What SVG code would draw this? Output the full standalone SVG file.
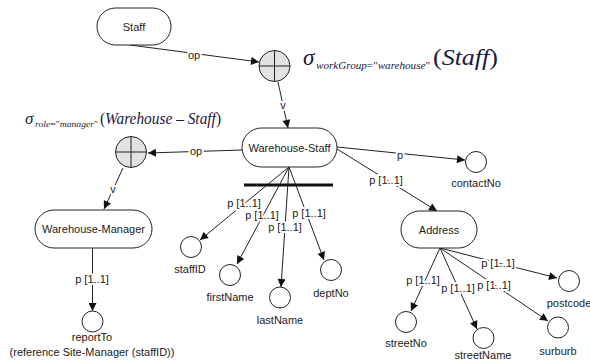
<svg xmlns="http://www.w3.org/2000/svg" width="590" height="360" viewBox="0 0 590 360">
<style>
text{font-family:"Liberation Sans",Arial,sans-serif;font-size:11px;fill:#222}
.c{text-anchor:middle;dominant-baseline:central}
.lbl{text-anchor:middle;dominant-baseline:central;stroke:#fff;stroke-width:4;paint-order:stroke;stroke-linejoin:round}
.node{fill:#fff;stroke:#222;stroke-width:1}
.op{fill:#e2e2e2;stroke:#222;stroke-width:1}
.x{stroke:#222;stroke-width:1}
.ea{stroke:#222;stroke-width:1;fill:none;marker-end:url(#ah)}
.m{font-family:"Liberation Serif","Times New Roman",serif;font-style:italic;fill:#1a1a40}
.u{font-style:normal}
</style>
<defs>
<marker id="ah" viewBox="0 0 10 10" refX="10" refY="5" markerWidth="9" markerHeight="8" markerUnits="userSpaceOnUse" orient="auto">
<path d="M0,0 L10,5 L0,10 Z" fill="#111"/>
</marker>
</defs>
<rect width="590" height="360" fill="#fff"/>

<g id="connectors">
<line class="ea" x1="130" y1="45" x2="259" y2="62"/>
<line class="ea" x1="278" y1="82" x2="288" y2="128"/>
<line class="ea" x1="242" y1="150" x2="148" y2="153"/>
<line class="ea" x1="123" y1="168" x2="104" y2="209"/>
<line class="ea" x1="92.5" y1="248" x2="92.5" y2="311"/>
<line class="ea" x1="337" y1="147" x2="465" y2="160"/>
<line class="ea" x1="337" y1="149" x2="437" y2="211"/>
<line class="ea" x1="289" y1="167" x2="200" y2="240"/>
<line class="ea" x1="289" y1="167" x2="237" y2="264"/>
<line class="ea" x1="289" y1="167" x2="281" y2="287"/>
<line class="ea" x1="289" y1="167" x2="324" y2="260"/>
<line x1="244" y1="185" x2="333" y2="185" stroke="#111" stroke-width="3"/>
<line class="ea" x1="440" y1="248" x2="411" y2="311"/>
<line class="ea" x1="440" y1="248" x2="477" y2="329"/>
<line class="ea" x1="440" y1="248" x2="548" y2="321"/>
<line class="ea" x1="440" y1="248" x2="557" y2="278"/>
<text class="lbl" x="194" y="55">op</text>
<text class="lbl" x="283" y="105">v</text>
<text class="lbl" x="196" y="151">op</text>
<text class="lbl" x="113" y="189">v</text>
<text class="lbl" x="400" y="155">p</text>
<text class="lbl" x="386" y="180">p [1..1]</text>
<text class="lbl" x="92" y="279">p [1..1]</text>
<text class="lbl" x="244" y="203">p [1..1]</text>
<text class="lbl" x="262" y="215">p [1..1]</text>
<text class="lbl" x="285" y="227">p [1..1]</text>
<text class="lbl" x="309" y="213">p [1..1]</text>
<text class="lbl" x="423" y="280">p [1..1]</text>
<text class="lbl" x="458" y="288">p [1..1]</text>
<text class="lbl" x="494" y="285">p [1..1]</text>
<text class="lbl" x="498" y="263">p [1..1]</text>
</g>

<g id="staff"><rect class="node" x="97" y="8" width="74" height="37" rx="18.5"/><text class="c" x="134" y="27">Staff</text></g>
<g id="op1"><circle class="op" cx="274.5" cy="66" r="15.5"/><line class="x" x1="259" y1="66" x2="290" y2="66"/><line class="x" x1="274.5" y1="50.5" x2="274.5" y2="81.5"/></g>
<g id="formula1">
<text class="m" x="303" y="65" style="font-size:23px">σ</text>
<text class="m" x="316" y="69" style="font-size:11px" textLength="114" lengthAdjust="spacingAndGlyphs">workGroup<tspan class="u">="</tspan>warehouse<tspan class="u">"</tspan></text>
<text class="m" x="433" y="65" style="font-size:23px" textLength="65" lengthAdjust="spacingAndGlyphs"><tspan class="u">(</tspan>Staff<tspan class="u">)</tspan></text>
</g>
<g id="warehouse-staff"><rect class="node" x="242" y="128" width="95" height="39" rx="19.5"/><text class="c" x="289.5" y="147.5">Warehouse-Staff</text></g>
<g id="op2"><circle class="op" cx="131" cy="152" r="15.5"/><line class="x" x1="115.5" y1="152" x2="146.5" y2="152"/><line class="x" x1="131" y1="136.5" x2="131" y2="167.5"/></g>
<g id="formula2">
<text class="m" x="25" y="124" style="font-size:17px">σ</text>
<text class="m" x="35" y="127" style="font-size:8px" textLength="63" lengthAdjust="spacingAndGlyphs">role<tspan class="u">="</tspan>manager<tspan class="u">"</tspan></text>
<text class="m" x="100" y="124" style="font-size:16px" textLength="121" lengthAdjust="spacingAndGlyphs"><tspan class="u">(</tspan>Warehouse<tspan class="u"> – </tspan>Staff<tspan class="u">)</tspan></text>
</g>
<g id="warehouse-manager"><rect class="node" x="35" y="210" width="117" height="38" rx="19"/><text class="c" x="93.5" y="229">Warehouse-Manager</text></g>
<g id="reportTo"><circle class="node" cx="92.5" cy="321.5" r="10.5"/><text class="c" x="92" y="337">reportTo</text><text class="c" x="92" y="352">(reference Site-Manager (staffID))</text></g>
<g id="contactNo"><circle class="node" cx="476" cy="162" r="10.5"/><text class="c" x="476" y="183">contactNo</text></g>
<g id="staffID"><circle class="node" cx="191" cy="247" r="10.5"/><text class="c" x="190" y="269">staffID</text></g>
<g id="firstName"><circle class="node" cx="230" cy="275" r="10.5"/><text class="c" x="230" y="297">firstName</text></g>
<g id="lastName"><circle class="node" cx="280" cy="297.5" r="10.5"/><text class="c" x="280" y="320">lastName</text></g>
<g id="deptNo"><circle class="node" cx="331" cy="270" r="10.5"/><text class="c" x="331" y="293">deptNo</text></g>
<g id="address"><rect class="node" x="401" y="211" width="76" height="37" rx="18.5"/><text class="c" x="439" y="229.5">Address</text></g>
<g id="streetNo"><circle class="node" cx="406" cy="322" r="10.5"/><text class="c" x="406" y="343">streetNo</text></g>
<g id="streetName"><circle class="node" cx="483.5" cy="338" r="10.5"/><text class="c" x="483" y="354.5">streetName</text></g>
<g id="surburb"><circle class="node" cx="558" cy="327.5" r="10.5"/><text class="c" x="558" y="351">surburb</text></g>
<g id="postcode"><circle class="node" cx="569" cy="281" r="10.5"/><text class="c" x="569" y="303">postcode</text></g>
</svg>
